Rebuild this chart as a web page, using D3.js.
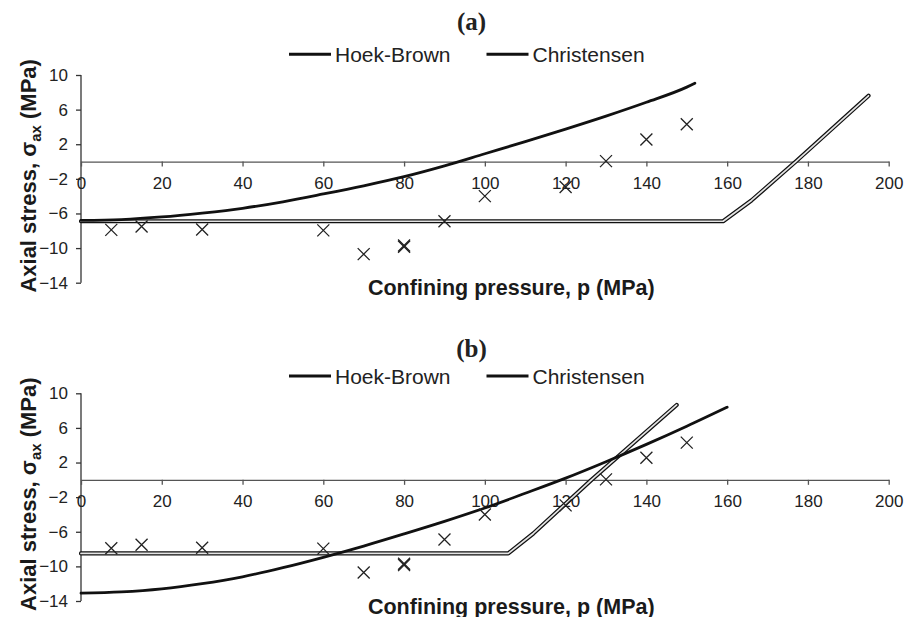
<!DOCTYPE html>
<html>
<head>
<meta charset="utf-8">
<script src="https://cdn.jsdelivr.net/npm/d3@7/dist/d3.min.js"></script>
<style>
  html, body { margin: 0; padding: 0; background: #fff; }
  svg { display: block; }
  .tick text { font-family: "Liberation Sans", Arial, sans-serif; font-size: 17px; fill: #222; }
</style>
</head>
<body>
<svg id="chart" width="914" height="617"></svg>
<script>
// Axis ticks
const pressureTicks = [0, 20, 40, 60, 80, 100, 120, 140, 160, 180, 200];
const stressTicks = [-14, -10, -6, -2, 2, 6, 10];

// Laboratory test results (confining pressure, axial stress), shared by both panels
const testPressure = [7.5, 15, 30, 60, 70, 80, 80, 90, 100, 120, 130, 140, 150];
const testStress   = [-7.9, -7.5, -7.85, -7.95, -10.7, -9.7, -9.85, -6.9, -4.0, -2.95, 0.05, 2.55, 4.3];

// Panel (a) criteria
const hoekBrownPressureA = [0, 10, 20, 30, 40, 50, 60, 70, 80, 90, 100, 110, 120, 130, 140, 150, 152];
const hoekBrownStressA   = [-6.8, -6.7, -6.4, -5.95, -5.4, -4.65, -3.75, -2.8, -1.75, -0.5, 0.9, 2.3, 3.75, 5.25, 6.85, 8.6, 9.05];
const christensenPressureA = [0, 159, 166, 177, 195];
const christensenStressA   = [-6.9, -6.9, -4.5, 0, 7.6];

// Panel (b) criteria
const hoekBrownPressureB = [0, 10, 20, 30, 40, 50, 60, 70, 80, 90, 100, 110, 120, 130, 140, 150, 160];
const hoekBrownStressB   = [-13.1, -12.95, -12.6, -12.0, -11.2, -10.15, -8.95, -7.65, -6.25, -4.8, -3.25, -1.55, 0.2, 2.1, 4.1, 6.2, 8.4];
const christensenPressureB = [0, 105.8, 112, 126.4, 147.5];
const christensenStressB   = [-8.5, -8.5, -6.2, 0, 8.65];

const seriesNames = ["Hoek-Brown", "Christensen"];
const panelLabels = ["(a)", "(b)"];

const zip = (xs, ys) => xs.map((x, i) => [x, ys[i]]);

const panels = [
  { label: panelLabels[0], top: 75, bottom: 282.7, titleY: 29.5, legendY: 54.3, xTitleY: 295,
    hb: zip(hoekBrownPressureA, hoekBrownStressA), ch: zip(christensenPressureA, christensenStressA) },
  { label: panelLabels[1], top: 393.3, bottom: 601, titleY: 356.7, legendY: 376, xTitleY: 613.5,
    hb: zip(hoekBrownPressureB, hoekBrownStressB), ch: zip(christensenPressureB, christensenStressB) }
];

const svg = d3.select("#chart");
const sans = '"Liberation Sans", Arial, sans-serif';
const serif = '"Liberation Serif", "Times New Roman", serif';
const points = zip(testPressure, testStress);

const x = d3.scaleLinear().domain([0, 200]).range([81, 888.7]);

panels.forEach(p => {
  const y = d3.scaleLinear().domain([-14, 10]).range([p.bottom, p.top]);
  const g = svg.append("g");

  // panel label
  g.append("text")
    .attr("x", 471.5).attr("y", p.titleY)
    .attr("text-anchor", "middle")
    .style("font-family", serif).style("font-weight", "bold").style("font-size", "25px")
    .attr("fill", "#222")
    .text(p.label);

  // legend
  const legendItems = [{ x0: 289, name: seriesNames[0] }, { x0: 486.5, name: seriesNames[1] }];
  legendItems.forEach(it => {
    g.append("line")
      .attr("x1", it.x0).attr("x2", it.x0 + 42)
      .attr("y1", p.legendY).attr("y2", p.legendY)
      .attr("stroke", "#111").attr("stroke-width", 3);
    g.append("text")
      .attr("x", it.x0 + 46).attr("y", p.legendY + 7.5)
      .style("font-family", sans).style("font-size", "21px")
      .attr("fill", "#222")
      .text(it.name);
  });

  // y axis
  const yAxis = g.append("g")
    .attr("transform", `translate(${x(0)},0)`)
    .call(d3.axisLeft(y).tickValues(stressTicks).tickSize(5).tickPadding(8).tickSizeOuter(0));
  yAxis.select(".domain").attr("stroke", "#333").attr("stroke-width", 1.3)
    .attr("d", `M0,${y(10)}V${y(-14)}`);
  yAxis.selectAll(".tick line").attr("stroke", "#333").attr("stroke-width", 1.3);

  // x axis through zero stress
  const xAxis = g.append("g")
    .attr("transform", `translate(0,${y(0)})`)
    .call(d3.axisBottom(x).tickValues(pressureTicks).tickSize(5).tickPadding(10).tickSizeOuter(0));
  xAxis.select(".domain").attr("stroke", "#555").attr("stroke-width", 1.3);
  xAxis.selectAll(".tick line").attr("stroke", "#555").attr("stroke-width", 1.3);

  // axis titles
  g.append("text")
    .attr("x", 511.3).attr("y", p.xTitleY)
    .attr("text-anchor", "middle")
    .style("font-family", sans).style("font-weight", "bold").style("font-size", "21.5px")
    .attr("fill", "#1a1a1a")
    .text("Confining pressure, p (MPa)");

  const yTitle = g.append("text")
    .attr("transform", `translate(36,${(p.top + p.bottom) / 2 - 3}) rotate(-90)`)
    .attr("text-anchor", "middle")
    .style("font-family", sans).style("font-weight", "bold").style("font-size", "22px")
    .attr("fill", "#1a1a1a");
  yTitle.append("tspan").text("Axial stress, σ");
  yTitle.append("tspan").attr("dy", 5).style("font-size", "15px").text("ax");
  yTitle.append("tspan").attr("dy", -5).text(" (MPa)");

  const line = d3.line().x(d => x(d[0])).y(d => y(d[1]));

  // Christensen: outlined double line
  g.append("path").datum(p.ch)
    .attr("d", line)
    .attr("fill", "none").attr("stroke", "#111").attr("stroke-width", 4.2)
    .attr("stroke-linecap", "round").attr("stroke-linejoin", "round");
  g.append("path").datum(p.ch)
    .attr("d", line)
    .attr("fill", "none").attr("stroke", "#e4e4e4").attr("stroke-width", 1.7)
    .attr("stroke-linecap", "round").attr("stroke-linejoin", "round");

  // Hoek-Brown curve
  g.append("path").datum(p.hb)
    .attr("d", line.curve(d3.curveMonotoneX))
    .attr("fill", "none").attr("stroke", "#111").attr("stroke-width", 2.8)
    .attr("stroke-linecap", "round");

  // test points as crosses
  const s = 6;
  g.append("g").selectAll("path")
    .data(points).join("path")
    .attr("d", d => {
      const cx = x(d[0]), cy = y(d[1]);
      return `M${cx - s},${cy - s}L${cx + s},${cy + s}M${cx + s},${cy - s}L${cx - s},${cy + s}`;
    })
    .attr("fill", "none").attr("stroke", "#222").attr("stroke-width", 1.3);
});
</script>
</body>
</html>
